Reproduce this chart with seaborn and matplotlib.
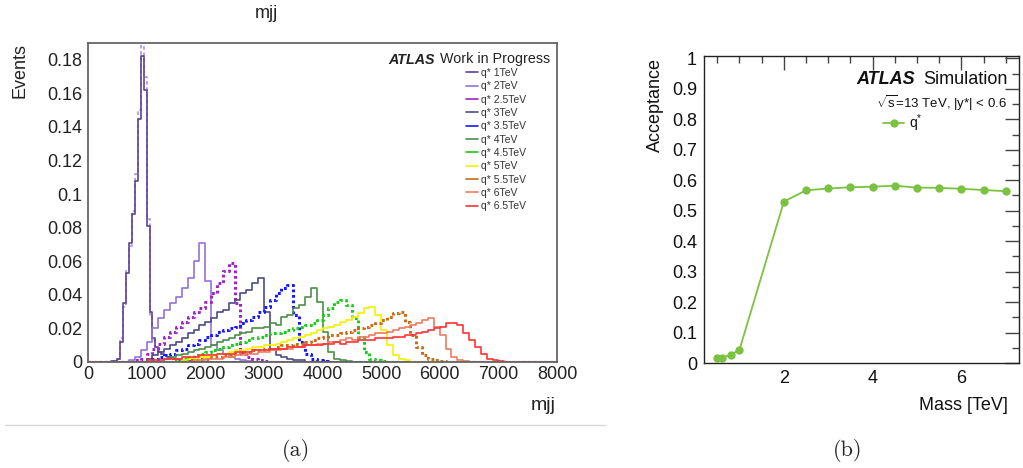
import numpy as np
import pandas as pd
import matplotlib
matplotlib.use("Agg")
import matplotlib.pyplot as plt
import seaborn as sns
from matplotlib.ticker import MultipleLocator, FuncFormatter
from matplotlib.lines import Line2D

# ---------------- data: panel (a) -----------------
labels_a = ["q* 1TeV", "q* 2TeV", "q* 2.5TeV", "q* 3TeV", "q* 3.5TeV", "q* 4TeV",
            "q* 4.5TeV", "q* 5TeV", "q* 5.5TeV", "q* 6TeV", "q* 6.5TeV"]
colors_a = ["#5e4396", "#9272dc", "#a024c8", "#4c4c86", "#1818ff", "#4b8f4b",
            "#1ecc1e", "#f2f200", "#cc6c14", "#ea7d62", "#ff3434"]
styles_a = ["-", "-", ":", "-", ":", "-", ":", "-", ":", "-", "-"]

# 1 TeV uses 50 GeV bins starting at 400 GeV
q1_start = 400
q1_vals = [0.0005, 0.0008, 0.0015, 0.012, 0.035, 0.053, 0.071, 0.088, 0.108, 0.145,
           0.182, 0.162, 0.081, 0.030, 0.014, 0.009, 0.006, 0.005, 0.004, 0.003,
           0.0025, 0.002, 0.0015, 0.001, 0.0008, 0.0005, 0.0003]
q1_alt_vals = [0.0005, 0.0008, 0.002, 0.014, 0.033, 0.055, 0.069, 0.090, 0.112, 0.150,
               0.196, 0.170, 0.085, 0.028, 0.013, 0.009, 0.006, 0.005, 0.004, 0.003,
               0.0025, 0.002, 0.0015, 0.001, 0.0008, 0.0005, 0.0003]

# other masses use 100 GeV bins
q2_start = 700
q2_vals = [0.001, 0.003, 0.007, 0.012, 0.020, 0.026, 0.031, 0.035, 0.039, 0.044, 0.050,
           0.060, 0.071, 0.048, 0.010, 0.007, 0.005, 0.003, 0.002, 0.001, 0.0005]
q25_start = 800
q25_vals = [0.001, 0.002, 0.005, 0.008, 0.011, 0.015, 0.018, 0.021, 0.024, 0.027, 0.030,
            0.032, 0.036, 0.041, 0.047, 0.054, 0.059, 0.035, 0.006, 0.003, 0.002, 0.001,
            0.0005]
q3_start = 1000
q3_vals = [0.002, 0.004, 0.006, 0.008, 0.010, 0.012, 0.014, 0.017, 0.019, 0.022, 0.024,
           0.026, 0.030, 0.031, 0.035, 0.037, 0.041, 0.043, 0.047, 0.050, 0.030, 0.008,
           0.004, 0.003, 0.002, 0.001, 0.001]
q35_start = 1100
q35_vals = [0.002, 0.003, 0.004, 0.005, 0.007, 0.008, 0.010, 0.011, 0.013, 0.015, 0.016,
            0.018, 0.019, 0.020, 0.021, 0.023, 0.025, 0.027, 0.030, 0.033, 0.037, 0.041,
            0.044, 0.046, 0.028, 0.012, 0.005, 0.002, 0.001, 0.0005]
q4_start = 1300
q4_vals = [0.002, 0.003, 0.004, 0.005, 0.006, 0.007, 0.008, 0.009, 0.010, 0.012, 0.013,
           0.014, 0.016, 0.017, 0.018, 0.020, 0.020, 0.021, 0.023, 0.022, 0.027, 0.028,
           0.032, 0.034, 0.039, 0.044, 0.036, 0.018, 0.006, 0.002, 0.001, 0.0005]
q45_start = 1500
q45_vals = [0.001, 0.002, 0.003, 0.004, 0.005, 0.006, 0.007, 0.008, 0.009, 0.010, 0.011,
            0.012, 0.013, 0.014, 0.015, 0.016, 0.017, 0.017, 0.018, 0.019, 0.020, 0.021,
            0.022, 0.023, 0.025, 0.028, 0.032, 0.036, 0.037, 0.034, 0.026, 0.015, 0.006,
            0.002, 0.001, 0.0005]
q5_start = 1600
q5_vals = [0.001, 0.002, 0.002, 0.003, 0.003, 0.004, 0.005, 0.005, 0.006, 0.007, 0.007,
           0.008, 0.009, 0.009, 0.010, 0.010, 0.011, 0.012, 0.013, 0.014, 0.015, 0.016,
           0.017, 0.019, 0.020, 0.021, 0.022, 0.024, 0.025, 0.027, 0.029, 0.032, 0.033,
           0.028, 0.019, 0.010, 0.004, 0.002, 0.001]
q55_start = 1700
q55_vals = [0.001, 0.001, 0.002, 0.002, 0.003, 0.003, 0.004, 0.004, 0.005, 0.006, 0.006,
            0.007, 0.007, 0.008, 0.008, 0.009, 0.010, 0.010, 0.011, 0.011, 0.012, 0.013,
            0.014, 0.015, 0.016, 0.016, 0.017, 0.018, 0.019, 0.020, 0.021, 0.022, 0.023,
            0.025, 0.027, 0.029, 0.030, 0.024, 0.016, 0.009, 0.004, 0.002, 0.001, 0.0005]
q6_start = 1800
q6_vals = [0.001, 0.001, 0.002, 0.002, 0.002, 0.003, 0.003, 0.004, 0.004, 0.005, 0.005,
           0.006, 0.006, 0.007, 0.007, 0.008, 0.008, 0.009, 0.009, 0.010, 0.010, 0.011,
           0.011, 0.012, 0.012, 0.013, 0.014, 0.013, 0.015, 0.015, 0.016, 0.017, 0.017,
           0.018, 0.019, 0.020, 0.021, 0.022, 0.023, 0.025, 0.026, 0.021, 0.016, 0.008,
           0.003, 0.001, 0.0005]
q65_start = 1000
q65_vals = [0.001, 0.001, 0.001, 0.002, 0.002, 0.002, 0.003, 0.003, 0.003, 0.004, 0.004,
            0.004, 0.005, 0.005, 0.005, 0.006, 0.006, 0.006, 0.007, 0.007, 0.007, 0.008,
            0.008, 0.008, 0.009, 0.009, 0.009, 0.010, 0.010, 0.010, 0.011, 0.011, 0.012,
            0.011, 0.012, 0.012, 0.013, 0.013, 0.013, 0.014, 0.014, 0.014, 0.015, 0.015,
            0.016, 0.016, 0.017, 0.018, 0.019, 0.020, 0.021, 0.023, 0.023, 0.022, 0.017,
            0.013, 0.009, 0.005, 0.002, 0.001, 0.0005]

# ---------------- data: panel (b) -----------------
mass_tev = [0.5, 0.6, 0.8, 1.0, 2.0, 2.5, 3.0, 3.5, 4.0, 4.5, 5.0, 5.5, 6.0, 6.5, 7.0]
acceptance = [0.015, 0.018, 0.026, 0.044, 0.530, 0.567, 0.573, 0.577, 0.579, 0.582,
              0.576, 0.575, 0.572, 0.568, 0.564]

# ---------------- style -----------------
sns.set_style("white")
plt.rcParams["font.family"] = ["Liberation Sans", "DejaVu Sans"]
plt.rcParams["mathtext.fontset"] = "custom"
plt.rcParams["mathtext.rm"] = "Liberation Sans"
plt.rcParams["mathtext.it"] = "Liberation Sans:italic"

W, H = 1023, 468
fig = plt.figure(figsize=(W / 100, H / 100), dpi=100)

def fx(px):
    return px / W

def fy(py):
    return 1 - py / H

NARROW = ["Liberation Sans Narrow", "Liberation Sans", "DejaVu Sans"]

# ---------------- panel (a) -----------------
ax = fig.add_axes([fx(88), fy(362), fx(557) - fx(88), fy(43) - fy(362)])

def hist_frame(start, vals, width):
    n = int(8000 // width)
    h = np.zeros(n)
    i0 = start // width
    h[i0:i0 + len(vals)] = vals
    centers = (np.arange(n) + 0.5) * width
    return pd.DataFrame({"mjj": centers, "w": h})

def draw_hist(df, width, color, ls, lw):
    sns.histplot(data=df, x="mjj", weights="w", binwidth=width, binrange=(0, 8000),
                 element="step", fill=False, color=color, linewidth=lw, linestyle=ls,
                 ax=ax)

series = [(q1_start, q1_vals, 50), (q2_start, q2_vals, 100), (q25_start, q25_vals, 100),
          (q3_start, q3_vals, 100), (q35_start, q35_vals, 100), (q4_start, q4_vals, 100),
          (q45_start, q45_vals, 100), (q5_start, q5_vals, 100), (q55_start, q55_vals, 100),
          (q6_start, q6_vals, 100), (q65_start, q65_vals, 100)]

# light overlay for 1 TeV
draw_hist(hist_frame(q1_start, q1_alt_vals, 50), 50, "#b49ae6", (0, (2, 1.5)), 1.3)

for i in range(len(series)):
    start, vals, w = series[i]
    if styles_a[i] == ":":
        ls, lw = (0, (0.9, 0.9)), 2.2
    else:
        ls, lw = "-", 1.2
    draw_hist(hist_frame(start, vals, w), w, colors_a[i], ls, lw)

ax.set_xlim(0, 8000)
ax.set_ylim(0, 0.19)
ax.set_xlabel("")
ax.set_ylabel("")
ax.xaxis.set_major_locator(MultipleLocator(1000))
ax.xaxis.set_minor_locator(MultipleLocator(200))
ax.yaxis.set_major_locator(MultipleLocator(0.02))
ax.yaxis.set_minor_locator(MultipleLocator(0.005))
ax.yaxis.set_major_formatter(FuncFormatter(lambda v, p: "0" if abs(v) < 1e-9 else f"{v:.2f}".rstrip("0")))
ax.tick_params(which="both", direction="in", top=False, right=False, colors="#555555",
               labelcolor="#222222")
ax.tick_params(which="major", length=10, width=1)
ax.tick_params(which="minor", length=5, width=1)
ax.tick_params(axis="y", labelsize=13, pad=4)
ax.tick_params(axis="x", labelsize=13, pad=3)
for lab in ax.get_xticklabels():
    lab.set_family(NARROW)
for sp in ax.spines.values():
    sp.set_color("#666666")
    sp.set_linewidth(1.3)

fig.text(fx(266), fy(14), "mjj", ha="center", va="center", fontsize=13, color="#222222")
fig.text(fx(20), fy(43), "Events", rotation=90, ha="center", va="top", fontsize=13,
         color="#222222")
fig.text(fx(556), fy(406), "mjj", ha="right", va="center", fontsize=14, color="#222222",
         family=NARROW)

fig.text(fx(388), fy(59.5), "ATLAS", ha="left", va="center", fontsize=10.3,
         weight="bold", style="italic", color="#222222")
fig.text(fx(550), fy(59.5), "Work in Progress", ha="right", va="center", fontsize=10.3,
         color="#222222")

handles = []
for i in range(len(labels_a)):
    handles.append(Line2D([0], [0], color=colors_a[i], lw=1.2))
leg = ax.legend(handles, labels_a, loc="upper left", bbox_to_anchor=(fx(466), fy(68)),
                bbox_transform=fig.transFigure, frameon=False, fontsize=7.5,
                handlelength=1.15, handletextpad=0.3, labelspacing=0.32, borderpad=0,
                borderaxespad=0)
for t in leg.get_texts():
    t.set_color("#333333")

# ---------------- panel (b) -----------------
ax2 = fig.add_axes([fx(704), fy(363), fx(1019) - fx(704), fy(56) - fy(363)])
sns.lineplot(x=mass_tev, y=acceptance, marker="o", color="#7cc242", markersize=6,
             markeredgewidth=0, linewidth=1.3, ax=ax2)
ax2.set_xlim(0.2, 7.3)
ax2.set_ylim(0, 1.008)
ax2.xaxis.set_major_locator(MultipleLocator(2))
ax2.xaxis.set_minor_locator(MultipleLocator(0.5))
ax2.yaxis.set_major_locator(MultipleLocator(0.1))
ax2.yaxis.set_minor_locator(MultipleLocator(0.05))
ax2.yaxis.set_major_formatter(FuncFormatter(lambda v, p: "0" if abs(v) < 1e-9 else ("1" if abs(v - 1) < 1e-9 else f"{v:.1f}")))
ax2.tick_params(which="both", direction="in", top=True, right=True, colors="#444444",
                labelcolor="#111111")
ax2.tick_params(which="major", length=10, width=1)
ax2.tick_params(which="minor", length=5, width=1)
ax2.tick_params(axis="both", labelsize=13)
ax2.tick_params(axis="y", pad=5)
ax2.tick_params(axis="x", pad=5)
for sp in ax2.spines.values():
    sp.set_color("#222222")
    sp.set_linewidth(1)
ax2.set_xlabel("")
ax2.set_ylabel("")

fig.text(fx(655), fy(58), "Acceptance", rotation=90, ha="center", va="top", fontsize=13,
         color="#111111")
fig.text(fx(1008), fy(406), "Mass [TeV]", ha="right", va="center", fontsize=13,
         color="#111111", family=NARROW)
fig.text(fx(1008), fy(79), "Simulation", ha="right", va="center", fontsize=13,
         color="#111111")
fig.text(fx(856), fy(79), "ATLAS", ha="left", va="center", fontsize=13, weight="bold",
         style="italic", color="#111111")
fig.text(fx(1007), fy(103), r"$\sqrt{\mathrm{s}}$=13 TeV, |y*| < 0.6", ha="right",
         va="center", fontsize=9.5, color="#111111")
fig.lines.append(Line2D([fx(883), fx(904)], [fy(123), fy(123)], transform=fig.transFigure,
                        color="#7cc242", lw=1.3))
fig.lines.append(Line2D([fx(893.5)], [fy(123)], transform=fig.transFigure,
                        color="#7cc242", marker="o", markersize=6, markeredgewidth=0, lw=0))
fig.text(fx(909), fy(123), r"q$^{*}$", ha="left", va="center", fontsize=10,
         color="#111111")

# ---------------- captions -----------------
fig.lines.append(Line2D([fx(5), fx(605)], [fy(425), fy(425)], transform=fig.transFigure,
                        color="#d8d8d8", lw=1))
fig.text(fx(296), fy(451), "(a)", ha="center", va="center", fontsize=16, family="cmr10")
fig.text(fx(848), fy(451), "(b)", ha="center", va="center", fontsize=16, family="cmr10")

fig.savefig("out.png", dpi=100)
